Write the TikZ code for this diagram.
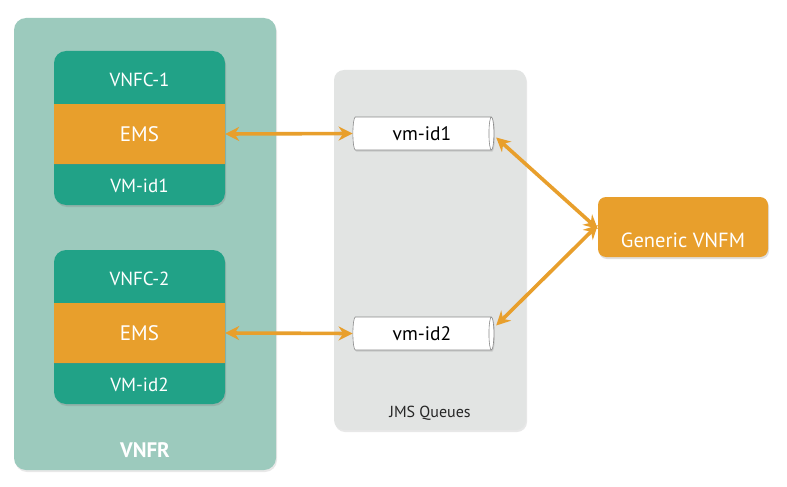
\documentclass[tikz,border=0pt]{standalone}
\usepackage{fontspec}
\setmainfont{PT Sans}
\usetikzlibrary{shapes.geometric,arrows.meta,shadows}
\definecolor{teal1}{HTML}{21A287}
\definecolor{teallight}{HTML}{9CCABD}
\definecolor{orng}{HTML}{E89F2C}
\definecolor{qgrey}{HTML}{E2E4E3}
\definecolor{cylline}{HTML}{8A8A8A}
\tikzset{
  x=1pt,y=-1pt,
  outerbox/.style={draw=none,fill=teallight,rounded corners=12pt,
    drop shadow={shadow xshift=1pt,shadow yshift=-2pt,opacity=0.18}},
  vnfcbox/.style={draw=none,fill=teal1,rounded corners=12pt,
    drop shadow={shadow xshift=1pt,shadow yshift=-2pt,opacity=0.3}},
  emsband/.style={draw=none,fill=orng,minimum width=171pt,minimum height=60pt,inner sep=0pt,
    drop shadow={shadow xshift=0pt,shadow yshift=-1pt,opacity=0.25}},
  qbox/.style={draw=none,fill=qgrey,rounded corners=10pt,
    drop shadow={shadow xshift=1pt,shadow yshift=-2pt,opacity=0.18}},
  queue/.style={cylinder,shape aspect=0.35,draw=cylline,line width=0.6pt,fill=white,
    minimum width=33pt,minimum height=141pt,inner sep=0pt,font=\fontsize{19.5}{22}\selectfont,
    drop shadow={shadow xshift=1pt,shadow yshift=-1.5pt,opacity=0.25}},
  wtxt/.style={text=white,font=\fontsize{19}{22}\selectfont,inner sep=0pt},
  emstxt/.style={text=white,font=\fontsize{21}{24}\selectfont,inner sep=0pt},
  link/.style={draw=orng,line width=3.6pt,{Stealth[length=14pt,width=14pt]}-{Stealth[length=14pt,width=14pt]}},
}
\begin{document}
\begin{tikzpicture}
\useasboundingbox[fill=white] (0,0) rectangle (787,487);
% VNFR
\path[outerbox] (14,18) rectangle (276,470);
\node[wtxt,font=\fontsize{21}{24}\selectfont\bfseries] (vnfr) at (145,450) {VNFR};
% VNFC-1
\path[vnfcbox] (54,51) rectangle (225,205);
\node[emsband] (ems1) at (139.5,134) {};
\node[emstxt] (ems1t) at (139.5,134) {EMS};
\node[wtxt] (vnfc1) at (139.5,80) {VNFC-1};
\node[wtxt] (vm1) at (139.5,186) {VM-id1};
% VNFC-2
\path[vnfcbox] (54,250) rectangle (225,404);
\node[emsband] (ems2) at (139.5,333) {};
\node[emstxt] (ems2t) at (139.5,333) {EMS};
\node[wtxt] (vnfc2) at (139.5,279) {VNFC-2};
\node[wtxt] (vm2) at (139.5,385) {VM-id2};
% JMS Queues
\path[qbox] (334,70) rectangle (526,430);
\node[font=\fontsize{16}{18}\selectfont,text=black!85,inner sep=0pt] (jms) at (430,413) {JMS Queues};
\node[queue] (q1) at (422,133.5) {vm-id1};
\node[queue] (q2) at (422,333.5) {vm-id2};
% Generic VNFM
\node[draw=none,fill=orng,rounded corners=8pt,minimum width=170pt,minimum height=60pt,
  drop shadow={shadow xshift=1pt,shadow yshift=-2pt,opacity=0.25}] (vnfm) at (683,227) {};
\node[wtxt,font=\fontsize{20.5}{23}\selectfont] (vnfmt) at (683,240) {Generic VNFM};
% links
\draw[link] (ems1.east) -- (q1.west);
\draw[link] (ems2.east) -- (q2.west);
\draw[link] ([xshift=2pt,yshift=-4pt]q1.east) -- ([yshift=-2pt]vnfm.west);
\draw[link] ([xshift=2pt,yshift=8pt]q2.east) -- ([yshift=2pt]vnfm.west);
\end{tikzpicture}
\end{document}
